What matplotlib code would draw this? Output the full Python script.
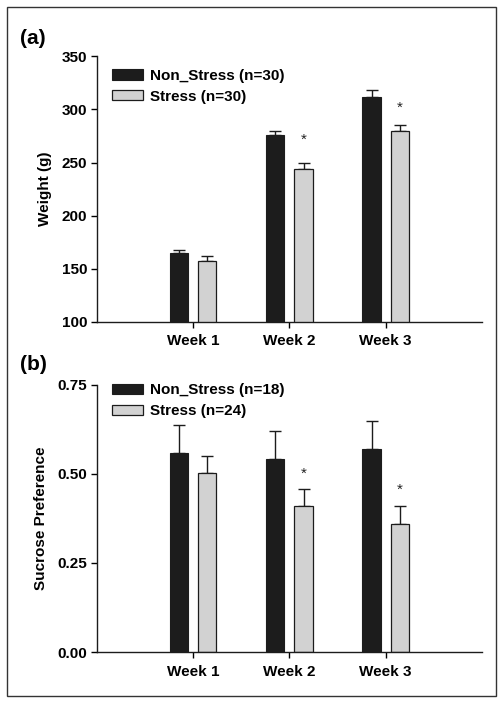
import matplotlib
matplotlib.use('Agg')
import matplotlib.pyplot as plt
import numpy as np
from matplotlib.patches import Rectangle

plt.rcParams['font.family'] = ['Liberation Sans', 'DejaVu Sans']
plt.rcParams['font.weight'] = 'bold'

weeks = ['Week 1', 'Week 2', 'Week 3']

## panel (a) body weight
weight_ns = [164.7, 275.6, 311.6]
weight_ns_err = [3.0, 4.4, 6.8]
weight_s = [157.2, 244.0, 279.7]
weight_s_err = [4.4, 5.6, 6.0]
weight_star = [None, 271, 301.5]

## panel (b) sucrose preference
sucrose_ns = [0.560, 0.543, 0.569]
sucrose_ns_err = [0.078, 0.077, 0.079]
sucrose_s = [0.504, 0.410, 0.360]
sucrose_s_err = [0.047, 0.048, 0.049]
sucrose_star = [None, 0.50, 0.456]

fig = plt.figure(figsize=(5.02, 7.03), dpi=100)
ax1 = fig.add_axes([0.193, 0.542, 0.767, 0.378])
ax2 = fig.add_axes([0.193, 0.0725, 0.767, 0.380])

# outer frame
fig.patches.append(Rectangle((7 / 502, 7 / 703), 489 / 502, 689 / 703,
                             transform=fig.transFigure, fill=False,
                             edgecolor='#333333', linewidth=1.0))

x = np.arange(len(weeks))
w = 0.19
off = 0.147


def draw_panel(ax, ns, ns_err, s, s_err, stars, lab_ns, lab_s, ylim, yticks, fmt,
               ylabel, leg_y):
    ax.bar(x - off, ns, w, color='#1c1c1c', edgecolor='#1c1c1c', linewidth=0.8,
           label=lab_ns, zorder=2)
    ax.bar(x + off, s, w, color='#d2d2d2', edgecolor='#1c1c1c', linewidth=0.9,
           label=lab_s, zorder=2)
    ax.errorbar(x - off, ns, yerr=[np.zeros(3), ns_err], fmt='none', ecolor='#1c1c1c',
                elinewidth=1.0, capsize=4.5, capthick=1.0, zorder=1)
    ax.errorbar(x + off, s, yerr=[np.zeros(3), s_err], fmt='none', ecolor='#1c1c1c',
                elinewidth=1.0, capsize=4.5, capthick=1.0, zorder=1)
    for i, st in enumerate(stars):
        if st is not None:
            ax.text(x[i] + off, st, '*', ha='center', va='center', fontsize=11,
                    fontweight='normal', color='#222222')
    ax.set_xlim(-1, 3)
    ax.set_ylim(*ylim)
    ax.set_yticks(yticks)
    ax.set_yticklabels([fmt.format(v) for v in yticks])
    ax.set_xticks(x)
    ax.set_xticklabels(weeks)
    ax.spines['top'].set_visible(False)
    ax.spines['right'].set_visible(False)
    for sp in ['left', 'bottom']:
        ax.spines[sp].set_linewidth(1.0)
        ax.spines[sp].set_color('#1c1c1c')
    ax.tick_params(axis='y', direction='out', length=4, width=1, labelsize=11, pad=3)
    ax.tick_params(axis='x', direction='out', length=4, width=1, labelsize=11, pad=5)
    ax.set_ylabel(ylabel, fontsize=11, fontweight='bold', labelpad=7)
    ax.legend(loc='center left', bbox_to_anchor=(0.04, leg_y), frameon=False,
              fontsize=11, handlelength=2.0, handleheight=0.65, handletextpad=0.5,
              labelspacing=0.45, borderaxespad=0, borderpad=0)


draw_panel(ax1, weight_ns, weight_ns_err, weight_s, weight_s_err, weight_star,
           'Non_Stress (n=30)', 'Stress (n=30)', (100, 350),
           [100, 150, 200, 250, 300, 350], '{:.0f}', 'Weight (g)', 0.887)
draw_panel(ax2, sucrose_ns, sucrose_ns_err, sucrose_s, sucrose_s_err, sucrose_star,
           'Non_Stress (n=18)', 'Stress (n=24)', (0, 0.75),
           [0, 0.25, 0.5, 0.75], '{:.2f}', 'Sucrose Preference', 0.940)

fig.text(20 / 502, 1 - 38 / 703, '(a)', fontsize=15, fontweight='bold', va='center')
fig.text(20 / 502, 1 - 365 / 703, '(b)', fontsize=15, fontweight='bold', va='center')

fig.savefig('out.png', dpi=100)
